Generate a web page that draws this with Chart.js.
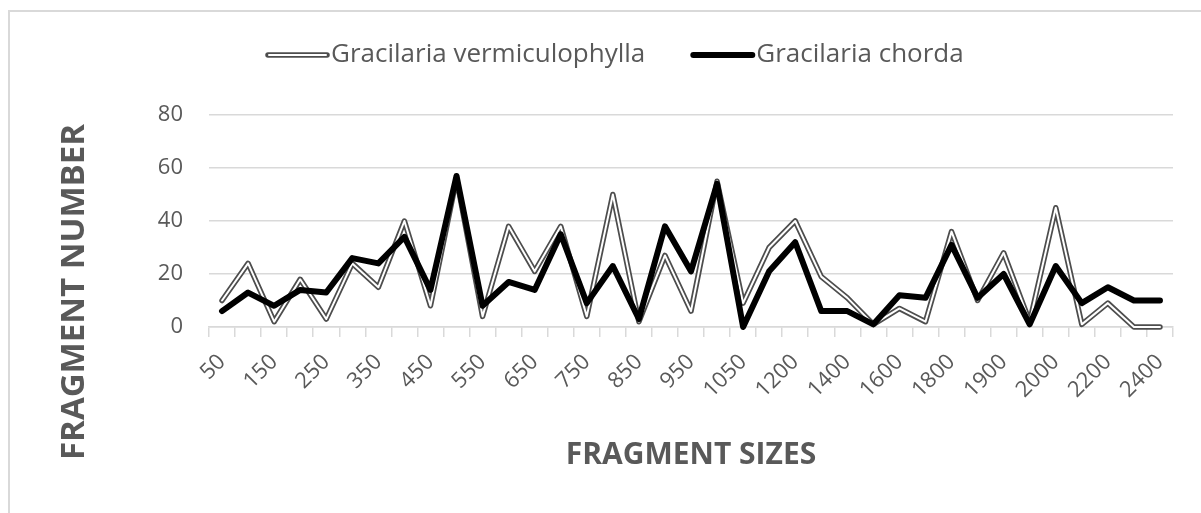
<!DOCTYPE html>
<html>
<head>
<meta charset="utf-8">
<script src="https://cdn.jsdelivr.net/npm/chart.js@4.4.1/dist/chart.umd.min.js"></script>
<style>
    body { margin: 0; background: #fff; }
    #wrap { position: relative; width: 1201px; height: 513px; overflow: hidden; }
    #frame { position: absolute; left: 8px; top: 10px; right: -10px; bottom: -10px; border-top: 2px solid #d9d9d9; border-left: 2px solid #d9d9d9; }
    #chart { position: absolute; left: 0; top: 0; }
</style>
</head>
<body>
<div id="wrap">
    <div id="frame"></div>
    <canvas id="chart" width="1201" height="513"></canvas>
</div>
<script>
// fragment size categories (bp)
const sizes = ['50', '100', '150', '200', '250', '300', '350', '400', '450', '500',
    '550', '600', '650', '700', '750', '800', '850', '900', '950', '1000',
    '1050', '1100', '1200', '1300', '1400', '1500', '1600', '1700', '1800', '1850',
    '1900', '1950', '2000', '2100', '2200', '2300', '2400'];

const vermiculophylla = [10, 24, 2, 18, 3, 24, 15, 40, 8, 56, 4, 38, 21, 38, 4, 50, 2, 27, 6, 55,
    9, 30, 40, 19, 11, 1, 7, 2, 36, 10, 28, 2, 45, 1, 9, 0, 0];
const chorda = [6, 13, 8, 14, 13, 26, 24, 34, 14, 57, 8, 17, 14, 35, 9, 23, 3, 38, 21, 54,
    0, 21, 32, 6, 6, 1, 12, 11, 31, 11, 20, 1, 23, 9, 15, 10, 10];

const seriesNames = ['Gracilaria vermiculophylla', 'Gracilaria chorda'];
const yTicks = [0, 20, 40, 60, 80];

const textColor = '#595959';
const gridColor = '#d9d9d9';

// legend + rotated y title drawn by hand (Excel-like placement)
const extrasPlugin = {
    id: 'extras',
    afterDraw(chart) {
        const ctx = chart.ctx;
        ctx.save();
        ctx.font = '500 26px "Open Sans"';
        ctx.textBaseline = 'middle';
        ctx.fillStyle = textColor;
        ctx.lineCap = 'round';

        let x = 268;
        const y = 55;
        // double line sample
        ctx.strokeStyle = '#4d4d4d';
        ctx.lineWidth = 5.5;
        ctx.beginPath(); ctx.moveTo(x, y); ctx.lineTo(x + 59, y); ctx.stroke();
        ctx.strokeStyle = '#fff';
        ctx.lineWidth = 2;
        ctx.beginPath(); ctx.moveTo(x + 1, y); ctx.lineTo(x + 58, y); ctx.stroke();
        ctx.fillText(seriesNames[0], x + 63, y);
        x += 63 + ctx.measureText(seriesNames[0]).width + 48;

        ctx.strokeStyle = '#000';
        ctx.lineWidth = 6;
        ctx.beginPath(); ctx.moveTo(x, y); ctx.lineTo(x + 59, y); ctx.stroke();
        ctx.fillText(seriesNames[1], x + 63, y);

        // y axis title
        ctx.font = 'bold 33px "Open Sans"';
        ctx.textAlign = 'center';
        ctx.translate(75, 292);
        ctx.rotate(-Math.PI / 2);
        ctx.fillText('FRAGMENT NUMBER', 0, 0);
        ctx.restore();
    }
};

new Chart(document.getElementById('chart'), {
    type: 'line',
    data: {
        labels: sizes,
        datasets: [
            {
                label: seriesNames[0],
                data: vermiculophylla,
                borderColor: '#4d4d4d',
                borderWidth: 5.5,
                order: 3
            },
            {
                label: seriesNames[0] + ' (inner)',
                data: vermiculophylla,
                borderColor: '#ffffff',
                borderWidth: 2,
                order: 2
            },
            {
                label: seriesNames[1],
                data: chorda,
                borderColor: '#000000',
                borderWidth: 6,
                order: 1
            }
        ]
    },
    options: {
        responsive: false,
        animation: false,
        elements: {
            point: { radius: 0, hoverRadius: 0 },
            line: { tension: 0, borderJoinStyle: 'round', borderCapStyle: 'round', fill: false }
        },
        datasets: { line: { clip: false } },
        layout: { padding: { left: 149, right: 28, top: 115, bottom: 40 } },
        scales: {
            x: {
                offset: true,
                grid: {
                    offset: true,
                    drawOnChartArea: false,
                    color: gridColor,
                    lineWidth: 1.5,
                    tickLength: 10
                },
                border: { color: gridColor, width: 1.5 },
                ticks: {
                    color: textColor,
                    font: { family: 'Open Sans', size: 22 },
                    autoSkip: false,
                    minRotation: 45,
                    maxRotation: 45,
                    padding: 12,
                    callback: (v, i) => (i % 2 === 0 ? sizes[i] : '')
                },
                title: {
                    display: true,
                    text: 'FRAGMENT SIZES',
                    color: textColor,
                    font: { family: 'Open Sans', size: 30, weight: 'bold' },
                    padding: 0
                },
                afterFit: (scale) => { scale.height = 146; }
            },
            y: {
                min: 0,
                max: 80,
                afterBuildTicks: (scale) => { scale.ticks = yTicks.map(v => ({ value: v })); },
                grid: { color: gridColor, lineWidth: 1.5, drawTicks: false },
                border: { display: false },
                ticks: {
                    color: textColor,
                    font: { family: 'Open Sans', size: 22 },
                    padding: 26
                },
                afterFit: (scale) => { scale.width = 60; }
            }
        },
        plugins: {
            legend: { display: false },
            tooltip: { enabled: false }
        }
    },
    plugins: [extrasPlugin]
});
</script>
</body>
</html>
